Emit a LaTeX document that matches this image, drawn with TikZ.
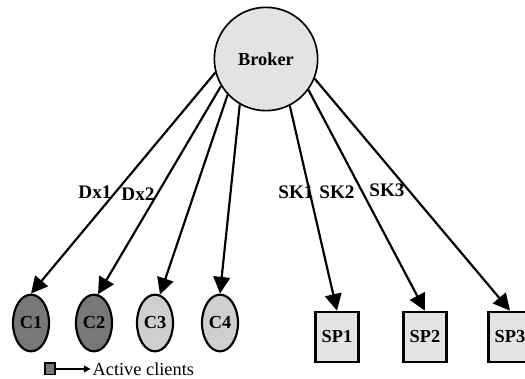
\documentclass[tikz,border=0pt]{standalone}
\usepackage{fontspec}
\setmainfont{Liberation Serif}
\usetikzlibrary{shapes,arrows.meta,positioning}

\definecolor{hubgray}{gray}{0.89}
\definecolor{activegray}{gray}{0.47}
\definecolor{idlegray}{gray}{0.81}

\begin{document}
\begin{tikzpicture}[
        x=0.6pt, y=-0.6pt,
        every node/.style={font=\fontsize{11}{13}\selectfont},
        hub/.style={circle, draw=black, line width=1pt, fill=hubgray,
            minimum size=62pt, inner sep=0pt, font=\fontsize{11}{13}\selectfont\bfseries},
        client/.style={ellipse, draw=black, line width=1.3pt,
            minimum width=21.6pt, minimum height=34pt, inner sep=0pt,
            font=\fontsize{11}{13}\selectfont\bfseries},
        provider/.style={rectangle, draw=black, line width=1.6pt, fill=hubgray,
            minimum width=26pt, minimum height=30pt, inner sep=0pt,
            font=\fontsize{11}{13}\selectfont\bfseries},
        tag/.style={inner sep=0pt, font=\fontsize{11.5}{13}\selectfont\bfseries},
        arr/.style={-{Triangle[length=10pt, width=10pt]}, line width=1.3pt, draw=black},
        legbox/.style={rectangle, draw=black, line width=0.8pt, fill=activegray,
            minimum width=6pt, minimum height=7pt, inner sep=0pt}
    ]
    \useasboundingbox (0,0) rectangle (525,379);

    \node[hub] (broker) at (266,59) {Broker};

    \node[client, fill=activegray] (c1) at (31,323) {C1};
    \node[client, fill=activegray] (c2) at (94,323) {C2};
    \node[client, fill=idlegray] (c3) at (155,323) {C3};
    \node[client, fill=idlegray] (c4) at (220,323) {C4};

    \node[provider] (sp1) at (337,337) {SP1};
    \node[provider] (sp2) at (425,337) {SP2};
    \node[provider] (sp3) at (510,337) {SP3};

    \draw[arr] (broker.195) -- (c1.north);
    \draw[arr] (broker.211) -- (c2.82);
    \draw[arr] (broker.223) -- (c3.80);
    \draw[arr] (broker.240) -- (c4.north);
    \draw[arr] (broker.297) -- (sp1.north);
    \draw[arr] (broker.324) -- (sp2.north);
    \draw[arr] (broker.338) -- (sp3.north);

    % Edge labels
    \node[tag] (dx1) at (95,192) {Dx1};
    \node[tag] (dx2) at (138,194) {Dx2};
    \node[tag] (sk1) at (296,192) {SK1};
    \node[tag] (sk2) at (337,192) {SK2};
    \node[tag] (sk3) at (387,190) {SK3};

    % Legend
    \node[legbox] (legsq) at (50,369) {};
    \node[right=21pt of legsq, inner sep=1pt] (legtxt) {Active clients};
    \draw[-{Triangle[length=4pt, width=4pt]}, line width=0.8pt] (legsq) -- (legtxt);
\end{tikzpicture}
\end{document}
